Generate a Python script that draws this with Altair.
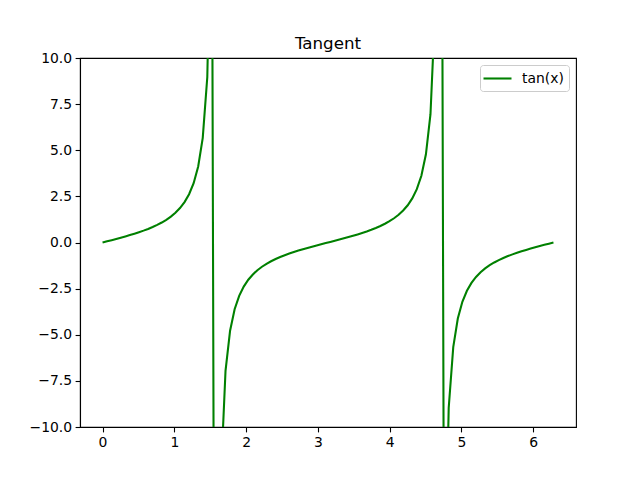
import altair as alt
import pandas as pd

x_vals = [
    0.0, 0.0635, 0.1269, 0.1904, 0.2539, 0.3173, 0.3808, 0.4443, 0.5077, 0.5712,
    0.6347, 0.6981, 0.7616, 0.8251, 0.8885, 0.9520, 1.0155, 1.0789, 1.1424, 1.2059,
    1.2693, 1.3328, 1.3963, 1.4597, 1.5232, 1.5867, 1.6501, 1.7136, 1.7771, 1.8405,
    1.9040, 1.9675, 2.0309, 2.0944, 2.1579, 2.2213, 2.2848, 2.3483, 2.4117, 2.4752,
    2.5387, 2.6021, 2.6656, 2.7291, 2.7925, 2.8560, 2.9195, 2.9829, 3.0464, 3.1099,
    3.1733, 3.2368, 3.3003, 3.3637, 3.4272, 3.4907, 3.5541, 3.6176, 3.6811, 3.7445,
    3.8080, 3.8715, 3.9349, 3.9984, 4.0619, 4.1253, 4.1888, 4.2523, 4.3157, 4.3792,
    4.4427, 4.5061, 4.5696, 4.6331, 4.6965, 4.7600, 4.8235, 4.8869, 4.9504, 5.0139,
    5.0773, 5.1408, 5.2043, 5.2677, 5.3312, 5.3947, 5.4581, 5.5216, 5.5851, 5.6485,
    5.7120, 5.7755, 5.8389, 5.9024, 5.9659, 6.0293, 6.0928, 6.1563, 6.2197, 6.2832,
]

tan_vals = [
    0.0, 0.06355, 0.12762, 0.19273, 0.25946, 0.32843, 0.40034, 0.47600, 0.55639, 0.64266,
    0.73628, 0.83910, 0.95350, 1.08265, 1.23090, 1.40431, 1.61168, 1.86640, 2.18967, 2.61753,
    3.21606, 4.12201, 5.67128, 8.96700, 20.9925, -63.019, -12.5786, -6.95507, -4.77897, -3.61703,
    -2.88926, -2.38743, -2.01771, -1.73205, -1.50304, -1.31398, -1.15406, -1.01599, -0.89467, -0.78641,
    -0.68845, -0.59870, -0.51554, -0.43765, -0.36397, -0.29363, -0.22586, -0.15801, -0.09549, -0.03174,
    0.03174, 0.09549, 0.15801, 0.22586, 0.29363, 0.36397, 0.43765, 0.51554, 0.59870, 0.68845,
    0.78641, 0.89467, 1.01599, 1.15406, 1.31398, 1.50304, 1.73205, 2.01771, 2.38743, 2.88926,
    3.61703, 4.77897, 6.95507, 12.5786, 63.019, -20.9925, -8.96700, -5.67128, -4.12201, -3.21606,
    -2.61753, -2.18967, -1.86640, -1.61168, -1.40431, -1.23090, -1.08265, -0.95350, -0.83910, -0.73628,
    -0.64266, -0.55639, -0.47600, -0.40034, -0.32843, -0.25946, -0.19273, -0.12762, -0.06355, 0.0,
]

x_ticks = [0, 1, 2, 3, 4, 5, 6]
y_ticks = [-10.0, -7.5, -5.0, -2.5, 0.0, 2.5, 5.0, 7.5, 10.0]
series_name = "tan(x)"
title_text = "Tangent"

df = pd.DataFrame({"x": x_vals, "y": tan_vals, "series": [series_name] * len(x_vals)})
df["order"] = range(len(df))

FONT = "DejaVu Sans"

chart = (
    alt.Chart(df)
    .mark_line(clip=True, strokeWidth=2.08)
    .encode(
        x=alt.X(
            "x:Q",
            scale=alt.Scale(domain=[-0.31416, 6.59734], nice=False, zero=False),
            axis=alt.Axis(values=x_ticks, format="d", title=None, grid=False),
        ),
        y=alt.Y(
            "y:Q",
            scale=alt.Scale(domain=[-10, 10], nice=False, zero=False),
            axis=alt.Axis(values=y_ticks, format=".1f", title=None, grid=False),
        ),
        order="order:Q",
        color=alt.Color(
            "series:N",
            scale=alt.Scale(domain=[series_name], range=["#008000"]),
            legend=alt.Legend(
                title=None,
                orient="top-right",
                offset=7,
                symbolType="M-2,0L2,0",
                symbolSize=196,
                symbolOffset=4,
                symbolStrokeWidth=2.08,
                labelFont=FONT,
                labelFontSize=13.9,
                labelColor="black",
                labelOffset=16,
                padding=5,
                strokeColor="#cccccc",
                fillColor="white",
                cornerRadius=3,
            ),
        ),
    )
    .properties(
        width=496,
        height=369,
        title=alt.TitleParams(
            title_text, font=FONT, fontSize=16.7, fontWeight="normal",
            color="black", anchor="middle", offset=-2,
        ),
        autosize=alt.AutoSizeParams(type="none"),
        padding={"left": 80, "top": 58, "right": 64, "bottom": 53},
    )
    .configure_view(stroke="black", strokeWidth=1.1)
    .configure_axis(
        labelFont=FONT,
        labelFontSize=13.9,
        labelColor="black",
        tickColor="black",
        tickSize=4.9,
        tickWidth=1.1,
        domainColor="black",
        domainWidth=1.1,
        labelPadding=3.5,
    )
)

chart.save("out.html", embed_options={"renderer": "svg", "actions": False})
